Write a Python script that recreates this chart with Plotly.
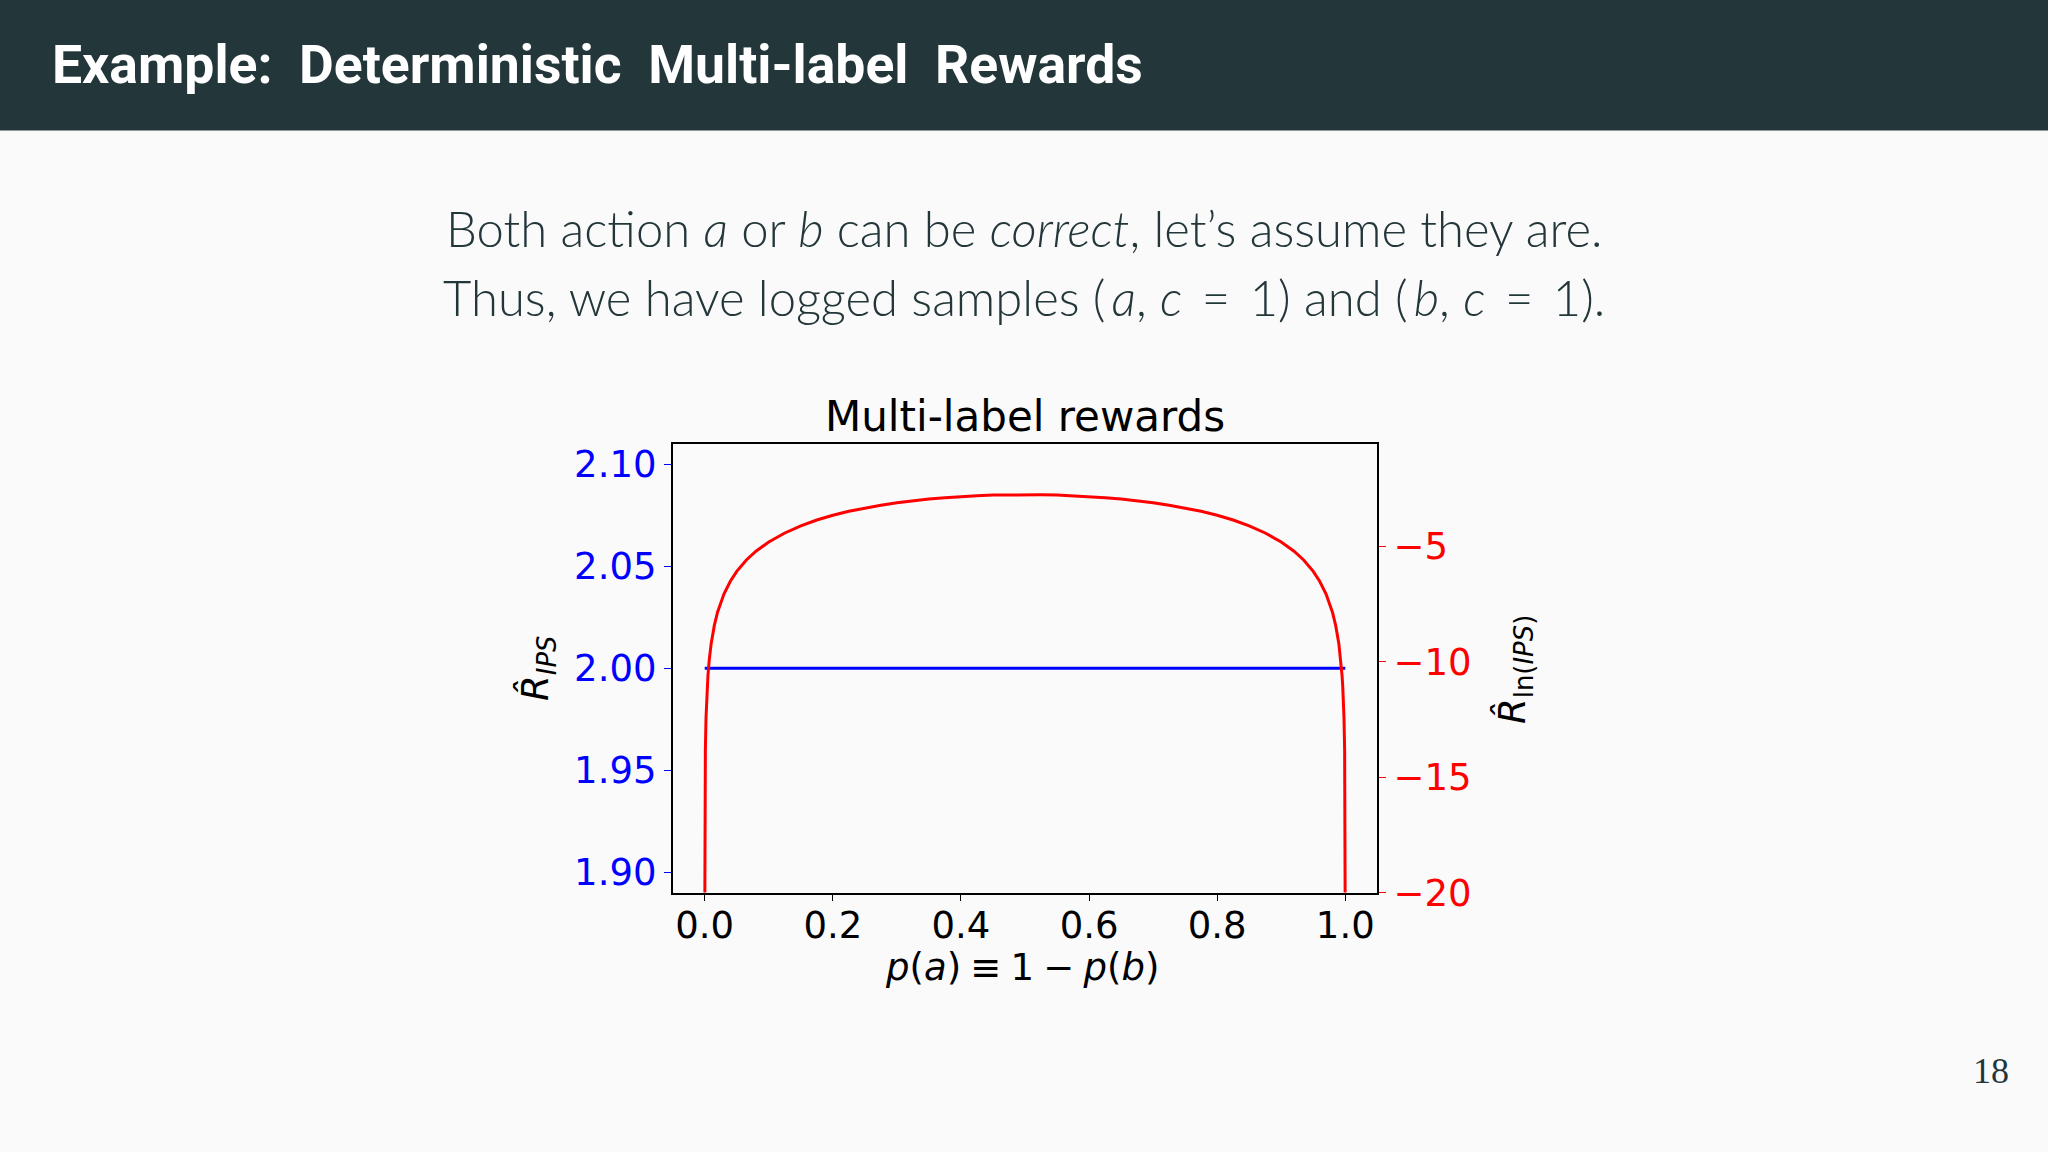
import plotly.graph_objects as go

# red curve (right axis)
p_left = [0.00002, 0.0001, 0.0003, 0.0005, 0.001, 0.002, 0.003, 0.004, 0.005,
          0.007, 0.01, 0.015, 0.02, 0.03, 0.04, 0.05, 0.065, 0.08, 0.1,
          0.125, 0.15, 0.175, 0.2, 0.225, 0.25, 0.275, 0.3, 0.325, 0.35,
          0.375, 0.4, 0.425, 0.45, 0.475, 0.5]
r_ln_left = [-21.64, -18.42, -16.22, -15.20, -13.82, -12.43, -11.62, -11.05, -10.61,
             -9.94, -9.23, -8.43, -7.86, -7.07, -6.52, -6.09, -5.60, -5.22, -4.82,
             -4.43, -4.12, -3.87, -3.66, -3.49, -3.35, -3.23, -3.12, -3.03, -2.96,
             -2.90, -2.85, -2.82, -2.79, -2.78, -2.77]
p_right = [0.525, 0.55, 0.575, 0.6, 0.625, 0.65, 0.675, 0.7, 0.725, 0.75,
           0.775, 0.8, 0.825, 0.85, 0.875, 0.9, 0.92, 0.935, 0.95, 0.96,
           0.97, 0.98, 0.985, 0.99, 0.993, 0.995, 0.996, 0.997, 0.998, 0.999,
           0.9995, 0.9997, 0.9999, 0.99998]
r_ln_right = [-2.78, -2.79, -2.82, -2.85, -2.90, -2.96, -3.03, -3.12, -3.23, -3.35,
              -3.49, -3.66, -3.87, -4.12, -4.43, -4.82, -5.22, -5.60, -6.09, -6.52,
              -7.07, -7.86, -8.43, -9.23, -9.94, -10.61, -11.05, -11.62, -12.43, -13.82,
              -15.20, -16.22, -18.42, -21.64]

# blue line (left axis)
p_ips = [0.0, 1.0]
r_ips = [2.0, 2.0]

x_ticks = [0.0, 0.2, 0.4, 0.6, 0.8, 1.0]
x_ticktext = ["0.0", "0.2", "0.4", "0.6", "0.8", "1.0"]
y1_ticks = [1.90, 1.95, 2.00, 2.05, 2.10]
y1_ticktext = ["1.90", "1.95", "2.00", "2.05", "2.10"]
y2_ticks = [-20, -15, -10, -5]
y2_ticktext = ["\u221220", "\u221215", "\u221210", "\u22125"]

W, H = 2048, 1152
BG = "#fafafa"
DARK = "#23373b"
CHART_FONT = "DejaVu Sans"


def px(x):
    return x / W


def py(y):
    return 1 - y / H


fig = go.Figure()
fig.add_trace(go.Scatter(x=p_ips, y=r_ips, mode="lines",
                         line=dict(color="#0000ff", width=3),
                         yaxis="y", showlegend=False))
fig.add_trace(go.Scatter(x=p_left + p_right, y=r_ln_left + r_ln_right, mode="lines",
                         line=dict(color="#ff0000", width=3),
                         yaxis="y2", showlegend=False))

axis_common = dict(showgrid=False, zeroline=False, showline=True, linecolor="black",
                   linewidth=1.6, ticks="outside", ticklen=7, tickwidth=1.4)

fig.update_layout(
    width=W, height=H,
    margin=dict(l=0, r=0, t=0, b=0),
    paper_bgcolor=BG, plot_bgcolor=BG,
    xaxis=dict(domain=[px(672.7), px(1377.3)], range=[-0.05, 1.05],
               tickvals=x_ticks, ticktext=x_ticktext, mirror=True, ticklabelstandoff=-8,
               tickcolor="black", tickfont=dict(family=CHART_FONT, size=37, color="black"),
               **axis_common),
    yaxis=dict(domain=[py(910), py(452.7)], range=[1.89, 2.11],
               tickvals=y1_ticks, ticktext=y1_ticktext,
               tickcolor="#0000ff", tickfont=dict(family=CHART_FONT, size=37, color="#0000ff"),
               **axis_common),
    yaxis2=dict(overlaying="y", side="right", range=[-20, -0.58],
                tickvals=y2_ticks, ticktext=y2_ticktext,
                tickcolor="#ff0000", tickfont=dict(family=CHART_FONT, size=37, color="#ff0000"),
                **axis_common),
)

# slide header
fig.add_shape(type="rect", xref="paper", yref="paper", x0=0, x1=1, y0=py(133), y1=1,
              fillcolor=DARK, line=dict(width=0), layer="below")

q = "\u2005"
sp = "\u2009"
annotations = [
    dict(text="Example:  Deterministic  Multi-label  Rewards", x=px(50), y=py(66),
         xanchor="left", yanchor="middle",
         font=dict(family="Roboto", size=53.5, color="white", weight=700)),
    dict(text="Both action <i>a</i> or <i>b</i> can be <i>correct</i>, let\u2019s assume they are.",
         x=px(1024), y=py(232), xanchor="center", yanchor="middle",
         font=dict(family="Lato", size=49, color=DARK, weight=300)),
    dict(text=f"Thus, we have logged samples ({sp}<i>a</i>, <i>c</i>{sp} ={sp} 1) and "
              f"({sp}<i>b</i>, <i>c</i>{sp} ={sp} 1).",
         x=px(1024), y=py(303), xanchor="center", yanchor="middle",
         font=dict(family="Lato", size=49, color=DARK, weight=300)),
    dict(text="18", x=px(2011), y=py(1092), xanchor="right", yanchor="middle",
         font=dict(family="Liberation Serif", size=36, color=DARK)),
    dict(text="Multi-label rewards", x=px(1025), y=py(452), xanchor="center", yanchor="bottom",
         font=dict(family=CHART_FONT, size=42, color="black")),
    dict(text=f"<i>p</i>(<i>a</i>){q}\u2261{q}1{q}\u2212{q}<i>p</i>(<i>b</i>)", x=px(1022), y=py(986),
         xanchor="center", yanchor="middle",
         font=dict(family=CHART_FONT, size=37, color="black")),
    dict(text="<i>R\u0302</i><sub><i>IPS</i></sub>", x=px(538), y=py(682), textangle=-90,
         xanchor="center", yanchor="middle",
         font=dict(family=CHART_FONT, size=37, color="black")),
    dict(text="<i>R\u0302</i><sub>ln(<i>IPS</i>)</sub>", x=px(1515), y=py(683), textangle=-90,
         xanchor="center", yanchor="middle",
         font=dict(family=CHART_FONT, size=37, color="black")),
]
for a in annotations:
    a.update(xref="paper", yref="paper", showarrow=False)
fig.update_layout(annotations=annotations)

page_css = ("var s=document.documentElement.style;s.margin='0';s.overflow='hidden';s.background='#fafafa';"
            "var b=document.body.style;b.margin='0';b.overflow='hidden';b.background='#fafafa';")
fig.write_html("out.html", config={"displayModeBar": False}, post_script=page_css)
